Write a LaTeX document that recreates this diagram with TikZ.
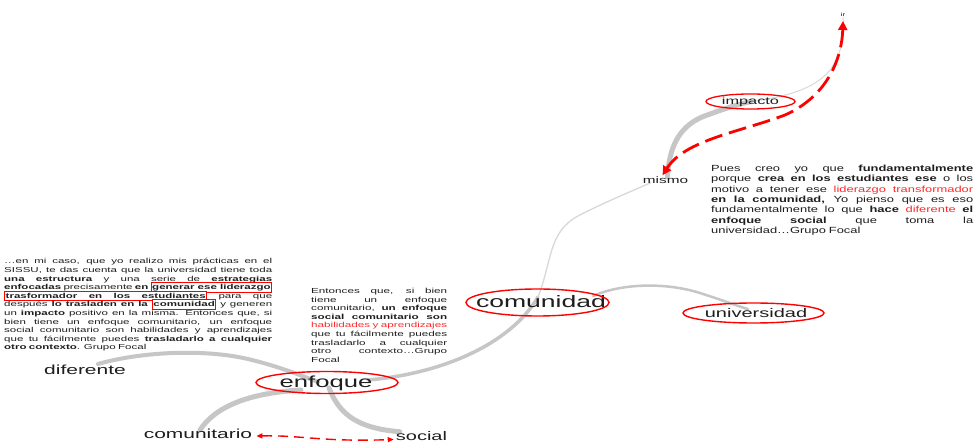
\documentclass[tikz,border=0pt]{standalone}
\usepackage{fontspec}
\setmainfont{Liberation Sans}
\newfontfamily\wf[FakeStretch=1.6]{Liberation Sans}
\newfontfamily\rf[FakeStretch=1.45]{Liberation Sans}
\usetikzlibrary{arrows.meta,calc,backgrounds}
\definecolor{rd}{HTML}{FF0000}
\definecolor{gA}{HTML}{C6C6C6}
\definecolor{gB}{HTML}{D8D8D8}
\definecolor{tx}{HTML}{1E1E1E}
\definecolor{rtx}{HTML}{FF2A2A}
\newcommand\rbox[1]{{\setlength\fboxsep{0.6pt}\setlength\fboxrule{0.9pt}\smash{\fcolorbox{rd}{white}{\vphantom{Ág}#1}}}}
\newcommand\jl[2]{{\spaceskip=0pt\xspaceskip=0pt\makebox[#1][s]{#2}}}
\tikzset{
  word/.style={inner sep=0pt, text=tx},
  oval/.style={draw=rd, line width=1.4pt},
  gthick/.style={draw=gA, line cap=round},
  gthin/.style={draw=gB, line cap=round},
  reddash/.style={draw=rd, fill=none, dash pattern=on 18pt off 7pt},
  blk/.style={inner sep=0pt, align=left, text=tx, anchor=north west}
}
\begin{document}
\begin{tikzpicture}[x=1pt,y=-1pt]
\useasboundingbox (0,0) rectangle (975,443);

% text blocks
\node[blk, text width=268pt, font=\wf\fontsize{7.2}{8.6}\selectfont] (txtA) at (4,258.5) {%
\jl{268pt}{…en mi caso, que yo realizo mis prácticas en el}\\
\jl{268pt}{SISSU, te das cuenta que la universidad tiene toda}\\
\jl{268pt}{\textbf{una estructura} y una serie de \textbf{estrategias}}\\
\jl{268pt}{\textbf{enfocadas} precisamente \textbf{en} \rbox{\textbf{generar ese liderazgo}}}\\
\jl{268pt}{\rbox{\jl{200pt}{\bfseries trasformador en los estudiantes}} para que}\\
\jl{268pt}{después \textbf{lo trasladen en la} \rbox{\textbf{comunidad}} y generen}\\
\jl{268pt}{un \textbf{impacto} positivo en la misma. Entonces que, si}\\
\jl{268pt}{bien tiene un enfoque comunitario, un enfoque}\\
\jl{268pt}{social comunitario son habilidades y aprendizajes}\\
\jl{268pt}{que tu fácilmente puedes \textbf{trasladarlo a cualquier}}\\
\textbf{otro contexto}. Grupo Focal};

\node[blk, text width=136pt, font=\wf\fontsize{7.3}{8.6}\selectfont] (txtB) at (311,288) {%
\jl{136pt}{Entonces que, si bien}\\
\jl{136pt}{tiene un enfoque}\\
\jl{136pt}{comunitario, \textbf{un enfoque}}\\
\jl{136pt}{\textbf{social comunitario son}}\\
\jl{136pt}{\color{rtx}habilidades y aprendizajes}\\
\jl{136pt}{que tu fácilmente puedes}\\
\jl{136pt}{trasladarlo a cualquier}\\
\jl{136pt}{otro contexto…Grupo}\\
Focal};

\node[blk, text width=262pt, font=\rf\fontsize{8.9}{10.3}\selectfont] (txtC) at (711,165) {%
\jl{262pt}{Pues creo yo que \textbf{fundamentalmente}}\\
\jl{262pt}{porque \textbf{crea en los estudiantes ese} o los}\\
\jl{262pt}{motivo a tener ese {\color{rtx}liderazgo transformador}}\\
\jl{262pt}{\textbf{en la comunidad,} Yo pienso que es eso}\\
\jl{262pt}{fundamentalmente lo que \textbf{hace} {\color{rtx}diferente} \textbf{el}}\\
\jl{262pt}{\textbf{enfoque social} que toma la}\\
universidad…Grupo Focal};

% words
\node[word, font=\wf\fontsize{16.6}{18}\selectfont] (comunidad) at (541,302) {comunidad};
\node[word, font=\wf\fontsize{12.5}{14}\selectfont] (universidad) at (756,313) {universidad};
\node[word, font=\wf\fontsize{16}{18}\selectfont] (enfoque) at (326,383) {enfoque};
\node[word, font=\wf\fontsize{10.2}{12}\selectfont] (impacto) at (750.5,101.5) {impacto};
\node[word, font=\wf\fontsize{9.6}{11}\selectfont] (mismo) at (665.5,180) {mismo};
\node[word, font=\wf\fontsize{13.1}{15}\selectfont] (diferente) at (85,370) {diferente};
\node[word, font=\wf\fontsize{13.1}{15}\selectfont] (comunitario) at (198,434) {comunitario};
\node[word, font=\wf\fontsize{12.5}{14}\selectfont] (social) at (421.5,436.5) {social};
\node[word, font=\wf\fontsize{5}{6}\selectfont] (ir) at (843,15) {ir};

% ovals
\draw[oval] ($(comunidad.center)+(-3.5,0.5)$) ellipse [x radius=71.5, y radius=13.5];
\draw[oval] ($(universidad.center)+(-2.5,0)$) ellipse [x radius=70.5, y radius=10];
\draw[oval] ($(enfoque.center)+(1,-0.5)$) ellipse [x radius=71, y radius=11];
\draw[oval, line width=1.3pt] (impacto.center) ellipse [x radius=44.5, y radius=7.5];

\begin{pgfonlayer}{background}
\fill[white] (0,0) rectangle (975,443);
\draw[gthick, line width=4pt] ($(diferente.north east)+(-28,-1)$) .. controls (140,352) and (205,348) .. (252,360) .. controls (280,367) and (300,375) .. ($(enfoque.center)+(-8,-1)$);
\draw[gthick, line width=5pt] ($(comunitario.north)+(2,1)$) .. controls (215,407) and (248,393) .. ($(enfoque.center)+(-25,7)$);
\draw[gthick, line width=5pt] ($(enfoque.center)+(3,5)$) .. controls (338,410) and (352,428) .. ($(social.north west)+(4,0)$);
\draw[gthick, line width=3.5pt] ($(enfoque.center)+(42,-3)$) .. controls (440,374) and (510,345) .. ($(comunidad.center)+(-3,-5)$);
\draw[gthin, line width=1.3pt] ($(comunidad.center)+(-3,-5)$) .. controls (552,262) and (548,232) .. (578,216) .. controls (605,202) and (630,192) .. ($(mismo.south west)+(8,-1)$);
\draw[gthick, line width=2.5pt] ($(comunidad.east)+(-13,-6)$) .. controls (622,283) and (668,282) .. (703,294) .. controls (722,300) and (735,305) .. ($(universidad.north)+(-8,1)$);
\draw[gthick, line width=5pt] ($(mismo.center)+(2,-3)$) .. controls (669,150) and (677,128) .. (702,117) .. controls (718,111) and (732,106) .. (impacto.center);
\draw[gthin, line width=1pt] (impacto.center) .. controls (787,97) and (816,88) .. (830,70) .. controls (841,55) and (845,37) .. (ir.south);
\end{pgfonlayer}

% red dashed arrows
\draw[reddash, line width=2.8pt, {Triangle[length=9pt,width=9pt]}-{Triangle[length=9pt,width=9pt]}] ($(ir.south)+(0,4)$) .. controls (842,55) and (830,95) .. (785,115) .. controls (740,132) and (685,140) .. ($(mismo.north)+(-3,-1)$);
\draw[reddash, line width=1.4pt, dash pattern=on 10pt off 6pt, {Triangle[length=6pt,width=5pt]}-{Triangle[length=6pt,width=5pt]}] ($(comunitario.east)+(4,2)$) .. controls (300,435) and (322,442) .. ($(social.west)+(-2,3)$);
\end{tikzpicture}
\end{document}
